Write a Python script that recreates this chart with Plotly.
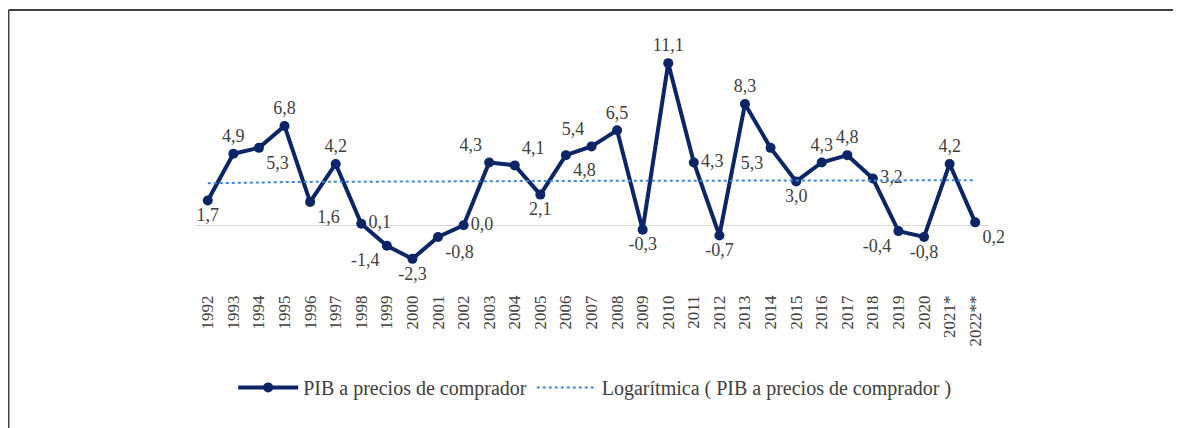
import numpy as np
import plotly.graph_objects as go

years = ["1992", "1993", "1994", "1995", "1996", "1997", "1998", "1999", "2000", "2001",
         "2002", "2003", "2004", "2005", "2006", "2007", "2008", "2009", "2010", "2011",
         "2012", "2013", "2014", "2015", "2016", "2017", "2018", "2019", "2020", "2021*", "2022**"]
pib = [1.7, 4.9, 5.3, 6.8, 1.6, 4.2, 0.1, -1.4, -2.3, -0.8,
       0.0, 4.3, 4.1, 2.1, 4.8, 5.4, 6.5, -0.3, 11.1, 4.3,
       -0.7, 8.3, 5.3, 3.0, 4.3, 4.8, 3.2, -0.4, -0.8, 4.2, 0.2]
label_pos = ["bottom center", "top center", "bottom right", "top center", "bottom right",
             "top center", "middle right", "bottom left", "bottom center", "bottom right",
             "middle right", "top left", "top right", "bottom center", "bottom right",
             "top left", "top center", "bottom center", "top center", "middle right",
             "bottom center", "top center", "bottom left", "bottom center", "top center",
             "top center", "middle right", "bottom left", "bottom center", "top center", "bottom right"]

NAVY = "#0b2566"
TREND = "#3d86db"
SERIF = "Liberation Serif"

idx = np.arange(len(years))
# Excel-style logarithmic trendline: y = a*ln(x) + b, x = 1..n
a, b = np.polyfit(np.log(idx + 1), np.array(pib), 1)
trend = a * np.log(idx + 1) + b

labels = [f"{v:.1f}".replace(".", ",") for v in pib]

fig = go.Figure()
fig.add_trace(go.Scatter(
    x=idx, y=pib, mode="lines+markers+text", name="PIB a precios de comprador",
    line=dict(color=NAVY, width=4), marker=dict(color=NAVY, size=10),
    text=labels, textposition=label_pos,
    textfont=dict(family=SERIF, size=18, color="#404040"),
    cliponaxis=False,
))
fig.add_trace(go.Scatter(
    x=idx, y=trend, mode="lines", name="Logarítmica ( PIB a precios de comprador )",
    line=dict(color=TREND, width=2, dash="dot"),
))

# outer frame (top and left edges only, as in the reference)
fig.add_shape(type="line", xref="paper", yref="paper", x0=-0.2352, x1=1.25, y0=1.166, y1=1.166,
              line=dict(color="#404040", width=2))
fig.add_shape(type="line", xref="paper", yref="paper", x0=-0.2352, x1=-0.2352, y0=1.166, y1=-0.6,
              line=dict(color="#404040", width=2))

fig.update_layout(
    width=1173, height=420,
    margin=dict(l=187, r=193, t=42, b=137),
    paper_bgcolor="white", plot_bgcolor="white",
    showlegend=True,
    legend=dict(orientation="h", x=0.504, xanchor="center", y=-0.40, yanchor="middle",
                font=dict(family=SERIF, size=20, color="#404040"), itemwidth=60,
                traceorder="normal"),
    xaxis=dict(range=[-0.5, 30.5], tickmode="array", tickvals=idx, ticktext=years,
               tickangle=-90, showgrid=False, zeroline=False, showline=False,
               ticks="", tickfont=dict(family=SERIF, size=17, color="#404040")),
    yaxis=dict(range=[-4.5, 12], visible=True, showticklabels=False, showgrid=False,
               zeroline=True, zerolinecolor="#d9d9d9", zerolinewidth=1, ticks="", showline=False),
)

fig.write_html("out.html")
